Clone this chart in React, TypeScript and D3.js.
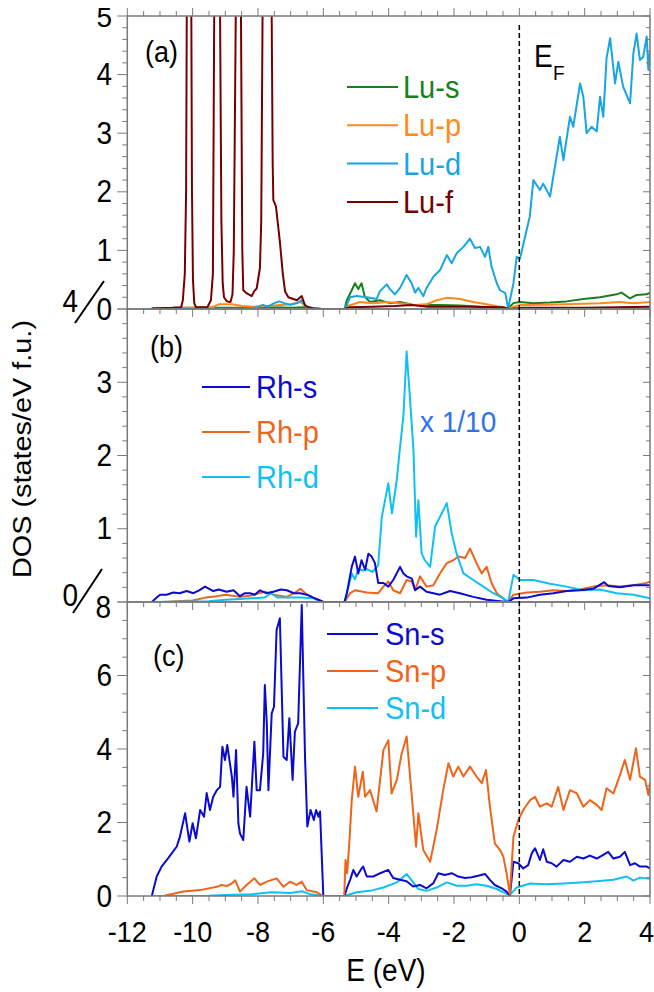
import React from 'react';
import * as d3 from 'd3';

type P = [number, number];

// ---------- tick labels ----------
const energyTicks = [-12, -10, -8, -6, -4, -2, 0, 2, 4];
const ticksA = [0, 1, 2, 3, 4, 5];
const ticksB = [1, 2, 3];
const ticksC = [0, 2, 4, 6];

// ---------- panel (a) : Lu ----------
const luS: P[] = [[-11.25,0.01],[-10.5,0.02],[-9.5,0.02],[-8.5,0.02],[-7.5,0.03],[-7,0.02],[-6.6,0.03],[-6.3,0.01],[-6.05,0],[-5.35,0],[-5.28,0.15],[-5.13,0.32],[-5.03,0.44],[-4.93,0.34],[-4.83,0.44],[-4.73,0.21],[-4.57,0.12],[-4.27,0.15],[-3.96,0.1],[-3.65,0.12],[-3.24,0.07],[-2.84,0.07],[-2.43,0.07],[-1.82,0.06],[-1.2,0.04],[-0.6,0.02],[-0.34,0.01],[-0.18,0.1],[0.02,0.12],[0.43,0.1],[0.94,0.11],[1.45,0.13],[1.96,0.17],[2.47,0.2],[2.98,0.25],[3.13,0.28],[3.39,0.18],[3.59,0.24],[3.9,0.25],[4,0.28]];
const luP: P[] = [[-11.25,0.01],[-10,0.02],[-9.4,0.03],[-9.2,0.08],[-8.8,0.08],[-8.5,0.05],[-8.1,0.04],[-7.5,0.06],[-7,0.08],[-6.7,0.12],[-6.5,0.03],[-6.05,0],[-5.35,0],[-5.28,0.05],[-5.08,0.08],[-4.88,0.12],[-4.47,0.1],[-4.06,0.12],[-3.65,0.1],[-3.24,0.07],[-2.84,0.08],[-2.53,0.15],[-2.22,0.19],[-1.82,0.17],[-1.41,0.12],[-1,0.08],[-0.59,0.04],[-0.34,0.01],[0.02,0.07],[0.43,0.07],[1.45,0.08],[2.47,0.1],[3.08,0.12],[3.49,0.1],[4,0.12]];
const luD: P[] = [[-11.25,0],[-8.2,0.01],[-8.0,0.04],[-7.85,0.07],[-7.7,0.04],[-7.5,0.1],[-7.35,0.13],[-7.2,0.1],[-7.0,0.07],[-6.8,0.1],[-6.67,0.15],[-6.5,0.03],[-6.05,0],[-5.35,0],[-5.28,0.07],[-5.18,0.2],[-4.98,0.22],[-4.67,0.2],[-4.37,0.17],[-4.27,0.3],[-4.06,0.42],[-3.96,0.34],[-3.81,0.25],[-3.65,0.36],[-3.45,0.58],[-3.29,0.43],[-3.19,0.28],[-3.09,0.36],[-2.94,0.22],[-2.84,0.36],[-2.63,0.55],[-2.43,0.66],[-2.22,0.92],[-2.07,0.78],[-1.92,0.95],[-1.71,1.06],[-1.51,1.2],[-1.36,1.04],[-1.2,1.06],[-1.05,0.89],[-0.95,1.06],[-0.85,0.72],[-0.69,0.44],[-0.59,0.32],[-0.43,0.27],[-0.34,0.01],[-0.18,0.44],[-0.08,0.89],[0.02,0.86],[0.32,1.58],[0.43,2.2],[0.63,2.03],[0.73,2.14],[0.94,1.92],[1.04,2.26],[1.24,2.94],[1.35,2.54],[1.55,3.28],[1.65,3.11],[1.86,3.85],[1.96,3.62],[2.06,3.0],[2.21,3.11],[2.37,3.03],[2.47,3.62],[2.57,3.28],[2.67,4.28],[2.78,4.62],[2.93,3.85],[3.03,4.22],[3.18,3.79],[3.39,3.51],[3.49,4.36],[3.59,4.7],[3.69,4.25],[3.79,4.3],[3.9,4.65],[3.95,4.08],[4,4.4]];
const luF: P[] = [[-11.25,0.01],[-10.6,0.02],[-10.35,0.03],[-10.3,0.15],[-10.24,0.6],[-10.2,2],[-10.18,5],[-10.11,14],[-10.04,5],[-10.02,2],[-9.99,0.5],[-9.95,0.1],[-9.9,0.03],[-9.55,0.03],[-9.44,0.15],[-9.38,0.6],[-9.34,5],[-9.25,14],[-9.16,5],[-9.12,1.5],[-9.08,0.44],[-9.04,0.2],[-8.95,0.13],[-8.84,0.12],[-8.78,0.25],[-8.74,1.0],[-8.68,5],[-8.6,14],[-8.52,5],[-8.48,1.0],[-8.45,0.32],[-8.35,0.27],[-8.19,0.22],[-8.12,0.3],[-8.04,0.35],[-7.94,0.7],[-7.9,1.5],[-7.86,5],[-7.72,14],[-7.58,5],[-7.55,2.5],[-7.53,1.86],[-7.45,1.75],[-7.33,1.15],[-7.24,0.6],[-7.17,0.3],[-7.07,0.2],[-6.81,0.15],[-6.66,0.22],[-6.56,0.06],[-6.46,0.03],[-6.3,0.01],[-6.05,0],[-5.35,0],[-5.2,0.03],[-4.5,0.04],[-3.8,0.05],[-3.3,0.07],[-2.8,0.04],[-1.5,0.04],[-0.5,0.03],[-0.3,0.0],[0.1,0.02],[1,0.02],[2,0.02],[3,0.03],[4,0.04]];

// ---------- panel (b) : Rh ----------
const rhS: P[] = [[-11.25,0],[-11.1,0.06],[-11,0.1],[-10.8,0.1],[-10.59,0.13],[-10.4,0.12],[-10.18,0.15],[-9.98,0.12],[-9.8,0.16],[-9.62,0.21],[-9.37,0.15],[-9.2,0.17],[-8.96,0.14],[-8.75,0.16],[-8.55,0.08],[-8.4,0.12],[-8.24,0.12],[-8.1,0.1],[-7.94,0.16],[-7.75,0.12],[-7.53,0.14],[-7.3,0.17],[-7.12,0.16],[-6.9,0.12],[-6.71,0.12],[-6.5,0.1],[-6.31,0.06],[-6.1,0.02],[-6.0,0],[-5.35,0],[-5.28,0.12],[-5.13,0.48],[-5.03,0.62],[-4.93,0.39],[-4.83,0.57],[-4.72,0.44],[-4.62,0.66],[-4.52,0.62],[-4.42,0.53],[-4.32,0.26],[-4.16,0.26],[-4.01,0.21],[-3.86,0.3],[-3.65,0.48],[-3.55,0.39],[-3.45,0.35],[-3.29,0.32],[-3.19,0.16],[-3.04,0.21],[-2.84,0.14],[-2.63,0.12],[-2.43,0.1],[-2.12,0.15],[-1.82,0.12],[-1.41,0.07],[-1,0.03],[-0.59,0.01],[-0.34,0],[-0.18,0.05],[0.23,0.06],[0.63,0.1],[1.04,0.12],[1.45,0.15],[1.86,0.16],[2.26,0.18],[2.6,0.27],[2.72,0.22],[3.08,0.2],[3.49,0.23],[4,0.23]];
const rhP: P[] = [[-10.9,0],[-10.5,0.01],[-10,0.02],[-9.6,0.06],[-9.25,0.08],[-9.0,0.1],[-8.55,0.07],[-8.2,0.09],[-7.8,0.14],[-7.53,0.1],[-7.12,0.07],[-6.9,0.12],[-6.7,0.18],[-6.5,0.1],[-6.31,0.06],[-6.1,0.02],[-6.0,0],[-5.35,0],[-5.18,0.12],[-5.03,0.16],[-4.67,0.13],[-4.32,0.12],[-4.16,0.21],[-4.01,0.28],[-3.86,0.16],[-3.65,0.12],[-3.45,0.3],[-3.29,0.28],[-3.19,0.16],[-3.04,0.35],[-2.84,0.21],[-2.63,0.23],[-2.43,0.39],[-2.22,0.53],[-2.02,0.57],[-1.87,0.62],[-1.66,0.6],[-1.51,0.73],[-1.31,0.53],[-1.15,0.39],[-1,0.48],[-0.85,0.26],[-0.69,0.12],[-0.49,0.05],[-0.34,0],[-0.18,0.1],[0.23,0.13],[0.63,0.14],[1.04,0.16],[1.45,0.15],[1.86,0.17],[2.26,0.21],[2.67,0.23],[3.08,0.21],[3.49,0.23],[3.9,0.26],[4,0.28]];
const rhD: P[] = [[-11.25,0],[-9.5,0.01],[-9,0.03],[-8.55,0.04],[-8.2,0.05],[-7.8,0.06],[-7.6,0.12],[-7.4,0.06],[-7,0.06],[-6.7,0.06],[-6.3,0.05],[-6.05,0],[-5.35,0],[-5.28,0.12],[-5.13,0.39],[-5.03,0.31],[-4.93,0.45],[-4.78,0.43],[-4.67,0.45],[-4.5,0.41],[-4.32,0.5],[-4.21,1.16],[-4.11,1.39],[-4.01,1.62],[-3.9,1.21],[-3.75,1.67],[-3.65,2.12],[-3.55,2.53],[-3.45,3.42],[-3.35,2.8],[-3.24,2.07],[-3.16,0.89],[-3.09,1.39],[-2.99,0.66],[-2.89,0.57],[-2.73,0.48],[-2.58,1.03],[-2.43,1.16],[-2.22,1.35],[-2.07,0.94],[-1.92,0.66],[-1.71,0.39],[-1.41,0.3],[-1.1,0.21],[-0.8,0.12],[-0.49,0.05],[-0.34,0],[-0.18,0.37],[0.02,0.3],[0.43,0.3],[0.94,0.25],[1.45,0.21],[1.96,0.16],[2.47,0.17],[2.98,0.12],[3.49,0.1],[4,0.05]];

// ---------- panel (c) : Sn ----------
const snS: P[] = [[-11.25,0],[-11.1,0.53],[-10.95,0.8],[-10.79,0.98],[-10.64,1.16],[-10.49,1.34],[-10.39,1.61],[-10.23,2.25],[-10.1,1.48],[-10,1.98],[-9.9,1.57],[-9.77,2.34],[-9.65,2.16],[-9.57,2.8],[-9.47,2.34],[-9.37,2.7],[-9.26,2.88],[-9.16,2.97],[-9.09,4.06],[-9.01,3.7],[-8.94,4.11],[-8.8,3.25],[-8.75,2.7],[-8.67,3.97],[-8.6,1.98],[-8.55,1.7],[-8.45,1.52],[-8.35,2.97],[-8.24,2.16],[-8.11,4.2],[-8.04,2.88],[-7.94,2.88],[-7.84,3.88],[-7.79,5.74],[-7.73,4.7],[-7.68,2.88],[-7.58,4.97],[-7.51,5.15],[-7.43,7.24],[-7.33,7.56],[-7.22,3.79],[-7.12,3.7],[-7.04,4.84],[-6.94,3.16],[-6.87,4.47],[-6.77,4.7],[-6.66,7.92],[-6.56,3.79],[-6.49,1.89],[-6.39,2.34],[-6.29,2.07],[-6.22,2.34],[-6.15,2.16],[-6.1,2.3],[-6.0,0],[-5.35,0],[-5.28,0.21],[-5.18,0.44],[-5.08,0.71],[-4.98,0.53],[-4.83,0.75],[-4.78,0.8],[-4.67,0.53],[-4.47,0.53],[-4.26,0.62],[-4.01,0.71],[-3.86,0.49],[-3.65,0.44],[-3.45,0.4],[-3.25,0.26],[-3.04,0.3],[-2.84,0.21],[-2.63,0.35],[-2.48,0.62],[-2.28,0.57],[-2.07,0.62],[-1.87,0.53],[-1.66,0.49],[-1.46,0.51],[-1.26,0.55],[-1.05,0.6],[-0.9,0.44],[-0.75,0.3],[-0.54,0.21],[-0.39,0.12],[-0.29,0],[-0.18,0.93],[-0.03,0.89],[0.12,0.75],[0.27,0.84],[0.38,1.16],[0.48,1.3],[0.63,0.98],[0.73,1.27],[0.84,0.93],[0.99,0.89],[1.14,0.8],[1.35,0.98],[1.55,0.93],[1.76,1.07],[1.96,1.02],[2.16,1.1],[2.37,1.02],[2.57,1.12],[2.72,1.2],[2.88,1.02],[3.08,1.07],[3.23,1.2],[3.39,0.84],[3.54,0.89],[3.69,0.8],[3.9,0.8],[4,0.75]];
const snP: P[] = [[-10.9,0],[-10.28,0.12],[-9.77,0.16],[-9.26,0.25],[-9.11,0.3],[-8.96,0.27],[-8.8,0.34],[-8.7,0.43],[-8.55,0.12],[-8.35,0.3],[-8.11,0.48],[-7.94,0.3],[-7.73,0.39],[-7.43,0.48],[-7.22,0.25],[-7.02,0.39],[-6.82,0.3],[-6.66,0.39],[-6.51,0.16],[-6.2,0.1],[-6.0,0],[-5.36,0],[-5.32,0.98],[-5.27,0.62],[-5.2,1.5],[-5.13,2.6],[-5.03,3.52],[-4.93,2.7],[-4.79,3.38],[-4.72,2.7],[-4.57,2.88],[-4.37,2.3],[-4.16,3.97],[-4.01,4.24],[-3.91,2.79],[-3.75,3.16],[-3.6,3.88],[-3.45,4.34],[-3.29,2.7],[-3.16,1.34],[-3.09,2.25],[-2.94,1.25],[-2.73,0.93],[-2.53,1.8],[-2.33,2.88],[-2.17,3.61],[-2.02,3.25],[-1.87,3.52],[-1.71,3.25],[-1.51,3.52],[-1.31,3.25],[-1.15,3.07],[-1.02,3.43],[-0.9,2.43],[-0.75,1.43],[-0.59,1.25],[-0.49,1.07],[-0.39,0.62],[-0.29,0.05],[-0.18,1.61],[-0.03,2.07],[0.12,2.34],[0.33,2.61],[0.48,2.7],[0.63,2.43],[0.84,2.52],[0.99,2.43],[1.19,2.97],[1.35,2.34],[1.55,2.88],[1.76,2.79],[1.96,2.43],[2.16,2.61],[2.37,2.48],[2.52,2.34],[2.67,2.93],[2.88,2.79],[3.08,3.29],[3.23,3.7],[3.39,3.16],[3.57,4.02],[3.69,3.25],[3.85,3.16],[3.95,2.75],[4,3.07]];
const snD: P[] = [[-11.25,0],[-9.5,0.01],[-9,0.03],[-8.2,0.05],[-7.6,0.1],[-7,0.08],[-6.66,0.13],[-6.4,0.05],[-6.0,0],[-5.35,0],[-4.98,0.1],[-4.57,0.14],[-4.16,0.23],[-3.75,0.37],[-3.45,0.6],[-3.29,0.42],[-3.09,0.19],[-2.84,0.14],[-2.53,0.23],[-2.22,0.37],[-1.92,0.28],[-1.61,0.28],[-1.31,0.32],[-1,0.28],[-0.69,0.19],[-0.49,0.1],[-0.29,0.03],[-0.08,0.23],[0.33,0.34],[0.84,0.32],[1.35,0.34],[1.86,0.37],[2.37,0.4],[2.88,0.44],[3.29,0.53],[3.49,0.42],[3.69,0.5],[4,0.47]];

// ---------- legends ----------
const legendA = ['Lu-s', 'Lu-p', 'Lu-d', 'Lu-f'];
const legendB = ['Rh-s', 'Rh-p', 'Rh-d'];
const legendC = ['Sn-s', 'Sn-p', 'Sn-d'];

const C = {
  luS: '#17801c', luP: '#ff8a1c', luD: '#16a6e2', luF: '#760000',
  s: '#0a0ad0', p: '#f0641a', d: '#10c0f5', note: '#2f6ff0',
};

const FONT = "'Liberation Sans', Arial, Helvetica, sans-serif";
const AXIS = '#7a7a7a';
const SY = 1.1;

const x = d3.scaleLinear().domain([-12, 4]).range([127.3, 650]);

type Panel = {
  key: string; top: number; bottom: number; max: number; minor: number; major: number;
  series: { data: P[]; color: string }[];
};

const panels: Panel[] = [
  { key: 'a', top: 16, bottom: 309, max: 5, minor: 0.2, major: 1,
    series: [{ data: luS, color: C.luS }, { data: luP, color: C.luP }, { data: luD, color: C.luD }, { data: luF, color: C.luF }] },
  { key: 'b', top: 309, bottom: 602, max: 4, minor: 0.2, major: 1,
    series: [{ data: rhP, color: C.p }, { data: rhD, color: C.d }, { data: rhS, color: C.s }] },
  { key: 'c', top: 602, bottom: 896, max: 8, minor: 0.5, major: 2,
    series: [{ data: snD, color: C.d }, { data: snS, color: C.s }, { data: snP, color: C.p }] },
];

function T(props: { x: number; y: number; size: number; fill?: string; anchor?: string; sy?: number; children: React.ReactNode }) {
  const { x: tx, y: ty, size, fill = '#000', anchor = 'start', sy = SY, children } = props;
  return (
    <text transform={`translate(${tx},${ty}) scale(1,${sy})`} fontSize={size} fill={fill} textAnchor={anchor}>{children}</text>
  );
}

export default function App() {
  const x0 = x(-12), x1 = x(4);
  const minorX = d3.range(-12, 4.001, 0.5);
  const yA = d3.scaleLinear().domain([0, 5]).range([309, 16]);
  const yB = d3.scaleLinear().domain([0, 4]).range([602, 309]);
  const yC = d3.scaleLinear().domain([0, 8]).range([896, 602]);
  const ylab = (v: number, yy: number, xr = 112, sy = SY, size = 28) => (
    <T key={`${v}-${yy}-${xr}`} x={xr} y={yy + 10.5} size={size} anchor="end" sy={sy}>{v}</T>
  );
  return (
    <svg width={654} height={992} style={{ position: 'absolute', left: 0, top: 0, background: '#fff' }}
      fontFamily={FONT}>
      <defs>
        {panels.map(p => (
          <clipPath id={`clip-${p.key}`} key={p.key}>
            <rect x={x0} y={p.top} width={x1 - x0} height={p.bottom - p.top} />
          </clipPath>
        ))}
      </defs>
      {panels.map(p => {
        const y = d3.scaleLinear().domain([0, p.max]).range([p.bottom, p.top]);
        const line = d3.line<P>().x(d => x(d[0])).y(d => y(d[1]));
        const yMinor = d3.range(0, p.max + 1e-6, p.minor);
        return (
          <g key={p.key}>
            <g clipPath={`url(#clip-${p.key})`}>
              {p.series.map((s, i) => (
                <path key={i} d={line(s.data) || ''} fill="none" stroke={s.color} strokeWidth={2} strokeLinejoin="round" />
              ))}
            </g>
            {yMinor.map((v, i) => {
              const isMajor = Math.abs(v / p.major - Math.round(v / p.major)) < 1e-6;
              const yy = y(v);
              return (
                <g key={i} stroke={AXIS} strokeWidth={1}>
                  <line x1={x0 - (isMajor ? 10 : 5)} x2={x0} y1={yy} y2={yy} />
                  <line x1={x1 - (isMajor ? 7 : 4)} x2={x1} y1={yy} y2={yy} />
                </g>
              );
            })}
            {minorX.map((e, i) => {
              const isMajor = Math.abs(e / 2 - Math.round(e / 2)) < 1e-6;
              return (
                <line key={i} x1={x(e)} x2={x(e)} y1={p.bottom} y2={p.bottom + (isMajor ? 8 : 5)} stroke={AXIS} strokeWidth={1} />
              );
            })}
            {p.key === 'a' && minorX.map((e, i) => {
              const isMajor = Math.abs(e / 2 - Math.round(e / 2)) < 1e-6;
              return (
                <line key={'t' + i} x1={x(e)} x2={x(e)} y1={p.top} y2={p.top - (isMajor ? 8 : 5)} stroke={AXIS} strokeWidth={1} />
              );
            })}
            <rect x={x0} y={p.top} width={x1 - x0} height={p.bottom - p.top} fill="none" stroke={AXIS} strokeWidth={1.5} />
          </g>
        );
      })}

      {/* Y tick labels */}
      {ticksA.map(v => (v === 5 ? ylab(v, yA(v) + 0.5, 112, 1.0, 28) : ylab(v, yA(v))))}
      {ticksB.map(v => ylab(v, yB(v)))}
      {ticksC.map(v => ylab(v, yC(v)))}
      {ylab(4, yB(4) - 8, 78)}
      {ylab(0, yC(8) - 7, 78)}
      {ylab(8, yC(8) + 5, 111)}
      <line x1={75} y1={323} x2={104} y2={281} stroke="#000" strokeWidth={2} />
      <line x1={73} y1={613} x2={102} y2={569} stroke="#000" strokeWidth={2} />

      {/* X tick labels */}
      {energyTicks.map((e, i) => (
        i === energyTicks.length - 1
          ? <T key={e} x={654} y={942} size={27} anchor="end">{e}</T>
          : <T key={e} x={x(e)} y={942} size={27} anchor="middle">{e}</T>
      ))}
      <T x={386} y={981} size={28} anchor="middle">E (eV)</T>
      <text transform="translate(31,449) rotate(-90)" fontSize={26} textAnchor="middle" fill="#000"
        textLength={258} lengthAdjust="spacingAndGlyphs">DOS (states/eV f.u.)</text>

      {/* Fermi level */}
      <line x1={x(0)} x2={x(0)} y1={25} y2={896} stroke="#000" strokeWidth={1.5} strokeDasharray="5,3" />
      <T x={534} y={67} size={28}>E</T>
      <T x={553} y={80} size={19}>F</T>

      {/* panel labels */}
      <T x={145} y={62} size={27}>(a)</T>
      <T x={150} y={357} size={27}>(b)</T>
      <T x={153} y={666} size={27}>(c)</T>

      {/* legends */}
      {legendA.map((t, i) => {
        const col = [C.luS, C.luP, C.luD, C.luF][i];
        const yy = 87 + i * 38.3;
        return (
          <g key={t}>
            <line x1={347} x2={398} y1={yy} y2={yy} stroke={col} strokeWidth={2} />
            <T x={403} y={yy + 11} size={29} fill={col} sy={1.06}>{t}</T>
          </g>
        );
      })}
      {legendB.map((t, i) => {
        const col = [C.s, C.p, C.d][i];
        const yy = 387 + i * 45;
        return (
          <g key={t}>
            <line x1={202} x2={250} y1={yy} y2={yy} stroke={col} strokeWidth={2} />
            <T x={256} y={yy + 11} size={29} fill={col} sy={1.06}>{t}</T>
          </g>
        );
      })}
      <T x={420} y={432} size={28} fill={C.note} sy={1.06}>x 1/10</T>
      {legendC.map((t, i) => {
        const col = [C.s, C.p, C.d][i];
        const yy = 634 + i * 37;
        return (
          <g key={t}>
            <line x1={327} x2={378} y1={yy} y2={yy} stroke={col} strokeWidth={2} />
            <T x={385} y={yy + 11} size={29} fill={col} sy={1.06}>{t}</T>
          </g>
        );
      })}
    </svg>
  );
}
